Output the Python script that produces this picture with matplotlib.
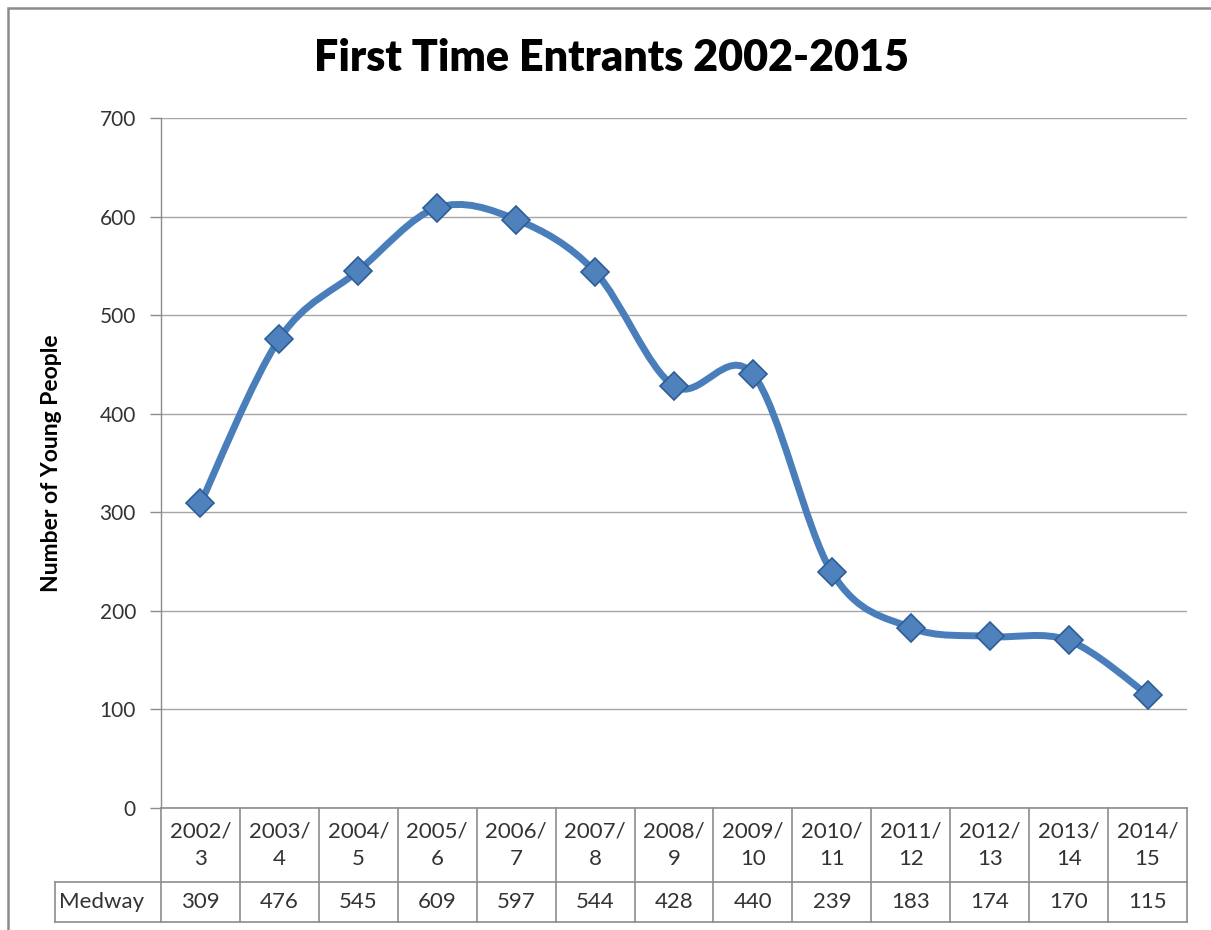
import numpy as np
import matplotlib.pyplot as plt
from matplotlib.path import Path
from matplotlib.patches import PathPatch, Rectangle
import matplotlib.transforms as mtransforms

plt.rcParams['font.family'] = ['Lato', 'DejaVu Sans']

# data
years = ['2002/\n3', '2003/\n4', '2004/\n5', '2005/\n6', '2006/\n7', '2007/\n8', '2008/\n9',
         '2009/\n10', '2010/\n11', '2011/\n12', '2012/\n13', '2013/\n14', '2014/\n15']
medway = [309, 476, 545, 609, 597, 544, 428, 440, 239, 183, 174, 170, 115]
series_name = 'Medway'
yticks = [0, 100, 200, 300, 400, 500, 600, 700]

W, H = 1211, 930
fig = plt.figure(figsize=(W / 100, H / 100), dpi=100)
ax = fig.add_axes([161 / W, 1 - 808 / H, (1187 - 161) / W, (808 - 118) / H])

# outer chart border
fig.patches.append(Rectangle((8 / W, -0.05), 1.2, 1 - 8 / H + 0.05, transform=fig.transFigure,
                             fill=False, edgecolor='#8c8c8c', linewidth=1.8))

x = np.arange(len(medway))
y = np.array(medway, dtype=float)

# smoothed line like excel (catmull-rom as bezier)
verts = [(x[0], y[0])]
codes = [Path.MOVETO]
n = len(x)
for i in range(n - 1):
    p0 = np.array([x[max(i - 1, 0)], y[max(i - 1, 0)]])
    p1 = np.array([x[i], y[i]])
    p2 = np.array([x[i + 1], y[i + 1]])
    p3 = np.array([x[min(i + 2, n - 1)], y[min(i + 2, n - 1)]])
    c1 = p1 + (p2 - p0) / 6
    c2 = p2 - (p3 - p1) / 6
    verts += [tuple(c1), tuple(c2), tuple(p2)]
    codes += [Path.CURVE4] * 3
ax.add_patch(PathPatch(Path(verts, codes), fill=False, edgecolor='#4a7ebb', linewidth=5,
                       capstyle='round', joinstyle='round', zorder=3))
ax.plot(x, y, linestyle='none', marker='D', markersize=14, markerfacecolor='#4f81bd',
        markeredgecolor='#2d5d97', markeredgewidth=1.2, zorder=4)

ax.set_xlim(-0.5, len(x) - 0.5)
ax.set_ylim(0, 700)
ax.set_yticks(yticks)
ax.set_yticklabels([str(v) for v in yticks], fontsize=15, color='#333333')
ax.tick_params(axis='y', length=8, width=1, color='#8c8c8c', pad=10)
ax.set_xticks([])
ax.grid(axis='y', color='#a6a6a6', linewidth=1)
ax.set_axisbelow(True)
for s in ['top', 'right', 'bottom']:
    ax.spines[s].set_visible(False)
ax.spines['left'].set_color('#8c8c8c')
ax.spines['left'].set_linewidth(1)

ax.set_ylabel('Number of Young People', fontsize=16.5, fontweight='bold')
ax.yaxis.set_label_coords((62 - 161) / 1026, (808 - 463) / 690)
fig.text(612 / W, 1 - 58 / H, 'First Time Entrants 2002-2015', fontsize=31, fontweight='heavy',
         ha='center', va='center')

# data table below the axis
tr = mtransforms.blended_transform_factory(ax.transData, ax.transAxes)
y_hdr = -(882 - 808) / 690
y_bot = -(922 - 808) / 690
x_lbl = -0.5 - (161 - 55) / 78.9
lc = '#8c8c8c'
kw = dict(transform=tr, color=lc, linewidth=1.2, clip_on=False)
ax.plot([-0.5, n - 0.5], [0, 0], **kw)
ax.plot([x_lbl, n - 0.5], [y_hdr, y_hdr], **kw)
ax.plot([x_lbl, n - 0.5], [y_bot, y_bot], **kw)
ax.plot([x_lbl, x_lbl], [y_hdr, y_bot], **kw)
for i in range(n + 1):
    ax.plot([i - 0.5, i - 0.5], [0, y_bot], **kw)
for i in range(n):
    ax.text(i, y_hdr / 2, years[i], transform=tr, ha='center', va='center', fontsize=16,
            color='#333333', linespacing=1.45)
    ax.text(i, (y_hdr + y_bot) / 2, str(medway[i]), transform=tr, ha='center', va='center',
            fontsize=16, color='#333333')
ax.text(x_lbl + 0.05, (y_hdr + y_bot) / 2, series_name, transform=tr, ha='left', va='center',
        fontsize=16, color='#333333')

fig.savefig('out.png', dpi=100)
